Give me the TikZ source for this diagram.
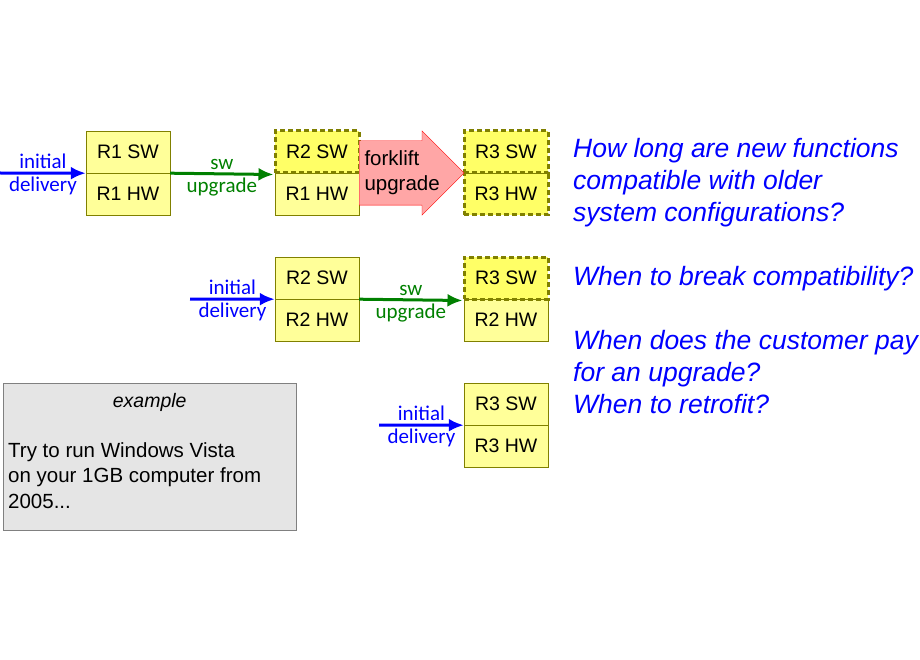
\documentclass[tikz,border=0pt]{standalone}
\usepackage{fontspec}
\setmainfont{Liberation Sans}
\newfontfamily\lblfont{Carlito}
\usetikzlibrary{positioning,shapes.arrows,arrows.meta}
\definecolor{boxfill}{HTML}{FFFF99}
\definecolor{newfill}{HTML}{FFFF66}
\definecolor{boxline}{HTML}{808000}
\definecolor{qblue}{HTML}{0000FF}
\definecolor{swgreen}{HTML}{008000}
\tikzset{%
        every box/.style={
            draw=boxline,
            fill=boxfill,
            minimum width=84pt,
            minimum height=42pt,
            inner sep=0pt,
            font=\fontsize{19.5}{22}\selectfont
        },
        box new/.style={
            fill=newfill,
            line width=3pt,
            dash pattern=on 5pt off 3pt
        },
        delivery/.style={qblue, line width=3pt, -{Latex[length=15pt,width=13pt]}},
        upgrade/.style={swgreen, line width=3pt, -{Latex[length=15pt,width=13pt]}},
        lbl/.style={font=\lblfont\fontsize{21}{22}\selectfont, inner sep=2.5pt},
    }
\begin{document}
\begin{tikzpicture}[x=1pt, y=-1pt]
        \useasboundingbox (0,0) rectangle (920,660);

        % first system
        \node [every box] (r1hw) at (128,194) {R1 HW};
        \node [every box] (r1sw) at (128,152) {R1 SW};
        \node [every box] (r1hw-b) at (317,194) {R1 HW};
        \node [every box, box new] (r2sw-a) at (317,152) {R2 SW};
        \node [every box, box new] (r3hw-a) at (506,194) {R3 HW};
        \node [every box, box new] (r3sw-a) at (506,152) {R3 SW};

        % second system
        \node [every box] (r2hw) at (317,320) {R2 HW};
        \node [every box] (r2sw) at (317,278) {R2 SW};
        \node [every box] (r2hw-b) at (506,320) {R2 HW};
        \node [every box, box new] (r3sw-b) at (506,278) {R3 SW};

        % third system
        \node [every box] (r3hw) at (506,446) {R3 HW};
        \node [every box] (r3sw) at (506,404) {R3 SW};

        % forklift
        \node [single arrow, draw=red, fill=red!35, minimum height=105pt,
               minimum width=84pt, single arrow head extend=10pt,
               single arrow head indent=0pt, inner sep=0pt, anchor=tail,
               text height=64pt, text width=1pt] (forklift) at (359,173) {};
        \node [align=left, font=\fontsize{20.5}{25}\selectfont, anchor=west]
            (forklift-lbl) at (361,173) {forklift\\upgrade};

        \coordinate (d1) at (0,173);
        \coordinate (d2) at (190,299);
        \coordinate (d3) at (379,425);
        \draw [delivery] (d1) -- (r1sw.south west)
            node [lbl, midway, above, qblue] {initial}
            node [lbl, midway, below, qblue] {delivery};
        \draw [delivery] (d2) -- (r2sw.south west)
            node [lbl, midway, above, qblue] {initial}
            node [lbl, midway, below, qblue] {delivery};
        \draw [delivery] (d3) -- (r3sw.south west)
            node [lbl, midway, above, qblue] {initial}
            node [lbl, midway, below, qblue] {delivery};

        \draw [upgrade] (r1sw.south east) -- (r2sw-a.south west)
            node [lbl, midway, above, swgreen] {sw}
            node [lbl, midway, below, swgreen] {upgrade};
        \draw [upgrade] (r2sw.south east) -- (r3sw-b.south west)
            node [lbl, midway, above, swgreen] {sw}
            node [lbl, midway, below, swgreen] {upgrade};

        % example
        \node [draw=gray, fill=gray!20, minimum width=293pt, minimum height=147pt,
               anchor=north west] (example) at (3,383) {};
        \node [font=\fontsize{19.5}{22}\selectfont\itshape, below=7pt of example.north]
            (example-title) {example};
        \node [align=left, font=\fontsize{20.5}{25.5}\selectfont, anchor=north west,
               inner sep=0pt] (example-txt) at (8,442)
            {Try to run Windows Vista\\on your 1GB computer from\\2005...};

        % questions
        \node [align=left, anchor=north west, inner sep=0pt, qblue,
               font=\fontsize{26.5}{32}\selectfont\itshape] (questions) at (573,138)
            {How long are new functions\\compatible with older\\system configurations?\\[32pt]
             When to break compatibility?\\[32pt]
             When does the customer pay\\for an upgrade?\\When to retrofit?};
    \end{tikzpicture}
\end{document}
